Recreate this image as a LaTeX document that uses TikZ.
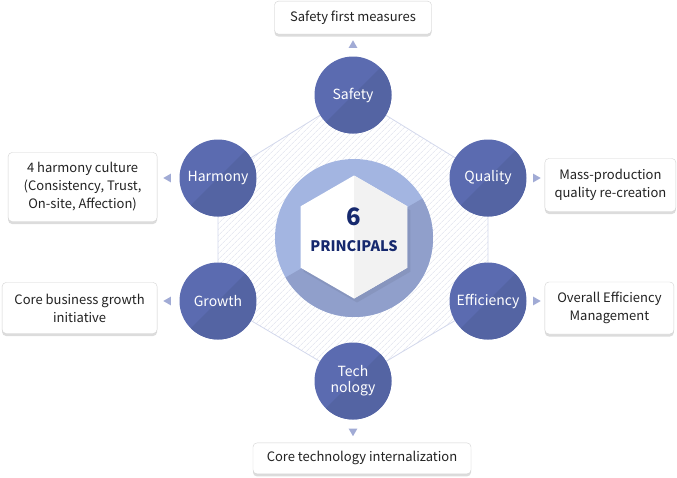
\documentclass[tikz,border=0pt]{standalone}
\usepackage{fontspec}
\setmainfont{Noto Sans CJK KR}
\usepackage{tikz}
\usetikzlibrary{
  shapes.geometric,
  positioning,
  backgrounds,
  calc,
  shadows,
  patterns.meta
}
\definecolor{PillBlue}{HTML}{5B6BB0}
\definecolor{PillShade}{HTML}{5464A3}
\definecolor{CoreLight}{HTML}{A3B5E1}
\definecolor{CoreShade}{HTML}{909FCB}
\definecolor{HexLine}{HTML}{D3D8EC}
\definecolor{HatchGray}{HTML}{DCDFEB}
\definecolor{TipBlue}{HTML}{A1ABD5}
\definecolor{BoxEdge}{HTML}{D2D2D2}
\definecolor{BoxShadow}{HTML}{DCDCDC}
\definecolor{InkGray}{HTML}{222222}
\definecolor{DeepNavy}{HTML}{16296E}
\definecolor{HexGray}{HTML}{F2F2F2}
\tikzset{
  % Principle circle, two-tone
  pill/.style={
    circle, minimum size=77pt, inner sep=0pt,
    fill=PillBlue, text=white, align=center,
    font=\fontsize{14}{16}\selectfont,
    path picture={
      \fill[PillShade] (path picture bounding box.north east)
        -- (path picture bounding box.south east)
        -- (path picture bounding box.south west) -- cycle;
    }
  },
  % Description box
  note/.style={
    rectangle, rounded corners=4pt,
    draw=BoxEdge, fill=white, text=InkGray,
    align=center, inner sep=0pt,
    font=\fontsize{13}{18}\selectfont,
    drop shadow={shadow xshift=0pt, shadow yshift=-2.5pt,
      fill=BoxShadow, opacity=1}
  },
  % Small pointer triangle
  tip/.style={
    regular polygon, regular polygon sides=3,
    minimum size=10pt, inner sep=0pt, fill=TipBlue
  },
  % Hatched hexagon
  web/.style={
    draw=HexLine, line width=0.8pt,
    pattern={Lines[angle=45, distance=4pt, line width=0.5pt]},
    pattern color=HatchGray
  }
}

\begin{document}
\begin{tikzpicture}[x=1pt, y=-1pt]
  \useasboundingbox (0,0) rectangle (677,477);

  % principles
  \node[pill] (safety)     at (353,95)  {Safety};
  \node[pill] (quality)    at (488,178) {Quality};
  \node[pill] (efficiency) at (488,301) {Efficiency};
  \node[pill] (technology) at (353,381) {Tech\\nology};
  \node[pill] (growth)     at (218,301) {Growth};
  \node[pill] (harmony)    at (218,178) {Harmony};

  % core
  \node[circle, minimum size=158pt, inner sep=0pt, fill=CoreLight,
        path picture={
          \coordinate (cc) at (path picture bounding box.center);
          \fill[CoreShade] ($(cc)+(30:120pt)$) -- ($(cc)+(30:120pt)+(-60:120pt)$)
            -- ($(cc)+(210:120pt)+(-60:120pt)$) -- ($(cc)+(210:120pt)$) -- cycle;
        }] (core) at (354,238) {};
  \node[regular polygon, regular polygon sides=6, regular polygon rotate=30,
        minimum size=123pt, inner sep=0pt, fill=white,
        drop shadow={shadow xshift=3pt, shadow yshift=-4pt, fill=CoreShade!80!black, opacity=.3},
        path picture={
          \fill[HexGray] (path picture bounding box.north)
            rectangle (path picture bounding box.south east);
        }] (hexcore) at (354,237) {};
  \node[text=DeepNavy, font=\bfseries\fontsize{24}{26}\selectfont] (six) at (354,217) {6};
  \node[text=DeepNavy, font=\bfseries\fontsize{14.5}{16}\selectfont] (principals) at (354,246) {PRINCIPALS};

  % descriptions
  \node[note, minimum width=157pt, minimum height=33pt, above=22pt of safety]
    (safetynote) {Safety first measures};
  \node[note, minimum width=131pt, minimum height=53pt, right=18pt of quality, yshift=-7pt]
    (qualitynote) {Mass-production\\quality re-creation};
  \node[note, minimum width=129pt, minimum height=52pt, right=18pt of efficiency, yshift=-7pt]
    (efficiencynote) {Overall Efficiency\\Management};
  \node[note, minimum width=218pt, minimum height=31pt, below=23pt of technology, xshift=9pt]
    (technologynote) {Core technology internalization};
  \node[note, minimum width=155pt, minimum height=51pt, left=22pt of growth, yshift=-7pt]
    (growthnote) {Core business growth\\initiative};
  \node[note, minimum width=149pt, minimum height=69pt, left=22pt of harmony, yshift=-9pt]
    (harmonynote) {4 harmony culture\\(Consistency, Trust,\\On-site, Affection)};

  % pointers
  \node[tip]             (safetytip)     at ($(safety.north)!0.5!(safetynote.south)$) {};
  \node[tip, rotate=-90] (qualitytip)    at ($(quality.east)!0.5!(qualitynote.west |- quality)$) {};
  \node[tip, rotate=-90] (efficiencytip) at ($(efficiency.east)!0.5!(efficiencynote.west |- efficiency)$) {};
  \node[tip, rotate=180] (technologytip) at ($(technology.south)!0.5!(technologynote.north -| technology)$) {};
  \node[tip, rotate=90]  (growthtip)     at ($(growth.west)!0.5!(growthnote.east |- growth)$) {};
  \node[tip, rotate=90]  (harmonytip)    at ($(harmony.west)!0.5!(harmonynote.east |- harmony)$) {};

  \begin{scope}[on background layer]
    \draw[web] (safety.center) -- (quality.center) -- (efficiency.center)
      -- (technology.center) -- (growth.center) -- (harmony.center) -- cycle;
  \end{scope}
\end{tikzpicture}
\end{document}
